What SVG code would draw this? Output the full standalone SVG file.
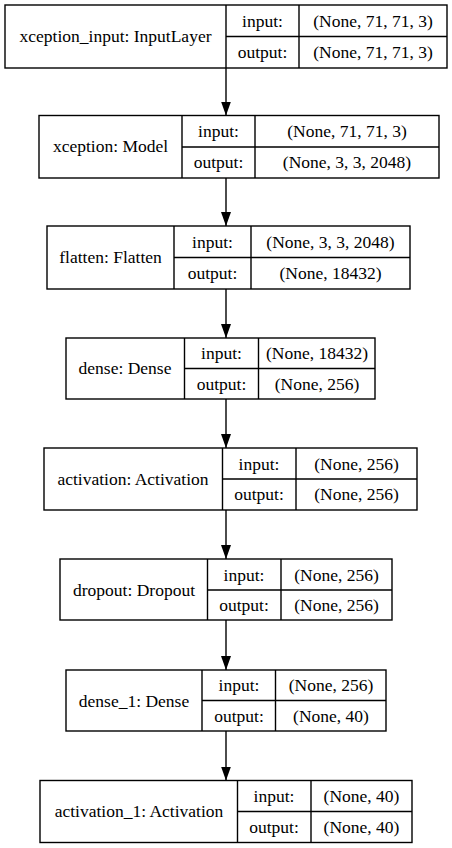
<svg xmlns="http://www.w3.org/2000/svg" width="452" height="848" viewBox="0 0 452 848">
<style>
.b{fill:#fff;stroke:#000;stroke-width:1.4}
.l{stroke:#000;stroke-width:1.4;fill:none}
text{font-size:17.5px;fill:#000;text-anchor:middle}
.c{stroke:#000;stroke-width:1.4;fill:none}
</style>
<defs>
<marker id="ah" markerUnits="userSpaceOnUse" markerWidth="14" markerHeight="10" refX="14" refY="5" orient="auto" viewBox="0 0 14 10">
<path d="M0,0 L14,5 L0,10 Z" fill="#000"/>
</marker>
</defs>
<g id="connectors">
<line class="c" x1="226" y1="68" x2="226" y2="115.5" marker-end="url(#ah)"/>
<line class="c" x1="226" y1="178" x2="226" y2="226" marker-end="url(#ah)"/>
<line class="c" x1="226" y1="289" x2="226" y2="338" marker-end="url(#ah)"/>
<line class="c" x1="226" y1="399" x2="226" y2="448" marker-end="url(#ah)"/>
<line class="c" x1="226" y1="510" x2="226" y2="559" marker-end="url(#ah)"/>
<line class="c" x1="226" y1="620" x2="226" y2="670" marker-end="url(#ah)"/>
<line class="c" x1="226" y1="731" x2="226" y2="780.5" marker-end="url(#ah)"/>
</g>
<g font-family="Liberation Serif, Times New Roman, serif">
<g id="n1">
<rect class="b" x="5" y="5" width="442" height="63"/>
<path class="l" d="M226,5V68M299,5V68M226,36.5H447"/>
<text x="115.5" y="42">xception_input: InputLayer</text>
<text x="262.5" y="26.5">input:</text>
<text x="262.5" y="57.5">output:</text>
<text x="373" y="26.5">(None, 71, 71, 3)</text>
<text x="373" y="57.5">(None, 71, 71, 3)</text>
</g>
<g id="n2">
<rect class="b" x="39" y="115.5" width="400" height="62.5"/>
<path class="l" d="M182,115.5V178M255,115.5V178M182,147H439"/>
<text x="110.5" y="152">xception: Model</text>
<text x="218.5" y="136.5">input:</text>
<text x="218.5" y="168">output:</text>
<text x="347" y="136.5">(None, 71, 71, 3)</text>
<text x="347" y="168">(None, 3, 3, 2048)</text>
</g>
<g id="n3">
<rect class="b" x="47" y="226" width="363" height="63"/>
<path class="l" d="M174,226V289M251,226V289M174,257.5H410"/>
<text x="110.5" y="262.5">flatten: Flatten</text>
<text x="212.5" y="247.5">input:</text>
<text x="212.5" y="278.5">output:</text>
<text x="330.5" y="247.5">(None, 3, 3, 2048)</text>
<text x="330.5" y="278.5">(None, 18432)</text>
</g>
<g id="n4">
<rect class="b" x="66" y="338" width="309" height="61"/>
<path class="l" d="M184.5,338V399M258.5,338V399M184.5,368.5H375"/>
<text x="125" y="374">dense: Dense</text>
<text x="221.5" y="358.5">input:</text>
<text x="221.5" y="389.5">output:</text>
<text x="317" y="358.5">(None, 18432)</text>
<text x="317" y="389.5">(None, 256)</text>
</g>
<g id="n5">
<rect class="b" x="44" y="448" width="373" height="62"/>
<path class="l" d="M222.5,448V510M296,448V510M222.5,479H417"/>
<text x="133" y="484.5">activation: Activation</text>
<text x="259" y="469.5">input:</text>
<text x="259" y="500">output:</text>
<text x="356.5" y="469.5">(None, 256)</text>
<text x="356.5" y="500">(None, 256)</text>
</g>
<g id="n6">
<rect class="b" x="60" y="559" width="332" height="61"/>
<path class="l" d="M207.5,559V620M281,559V620M207.5,590H392"/>
<text x="134" y="595.5">dropout: Dropout</text>
<text x="244" y="580.5">input:</text>
<text x="244" y="610.5">output:</text>
<text x="336.5" y="580.5">(None, 256)</text>
<text x="336.5" y="610.5">(None, 256)</text>
</g>
<g id="n7">
<rect class="b" x="66" y="670" width="320" height="61"/>
<path class="l" d="M202,670V731M275.5,670V731M202,700.5H386"/>
<text x="134" y="706.5">dense_1: Dense</text>
<text x="239" y="691">input:</text>
<text x="239" y="721.5">output:</text>
<text x="331" y="691">(None, 256)</text>
<text x="331" y="721.5">(None, 40)</text>
</g>
<g id="n8">
<rect class="b" x="40" y="780.5" width="372" height="62"/>
<path class="l" d="M237.5,780.5V842.5M311,780.5V842.5M237.5,811.5H412"/>
<text x="139" y="817">activation_1: Activation</text>
<text x="274" y="801.5">input:</text>
<text x="274" y="832.5">output:</text>
<text x="361.5" y="801.5">(None, 40)</text>
<text x="361.5" y="832.5">(None, 40)</text>
</g>
</g>
</svg>
